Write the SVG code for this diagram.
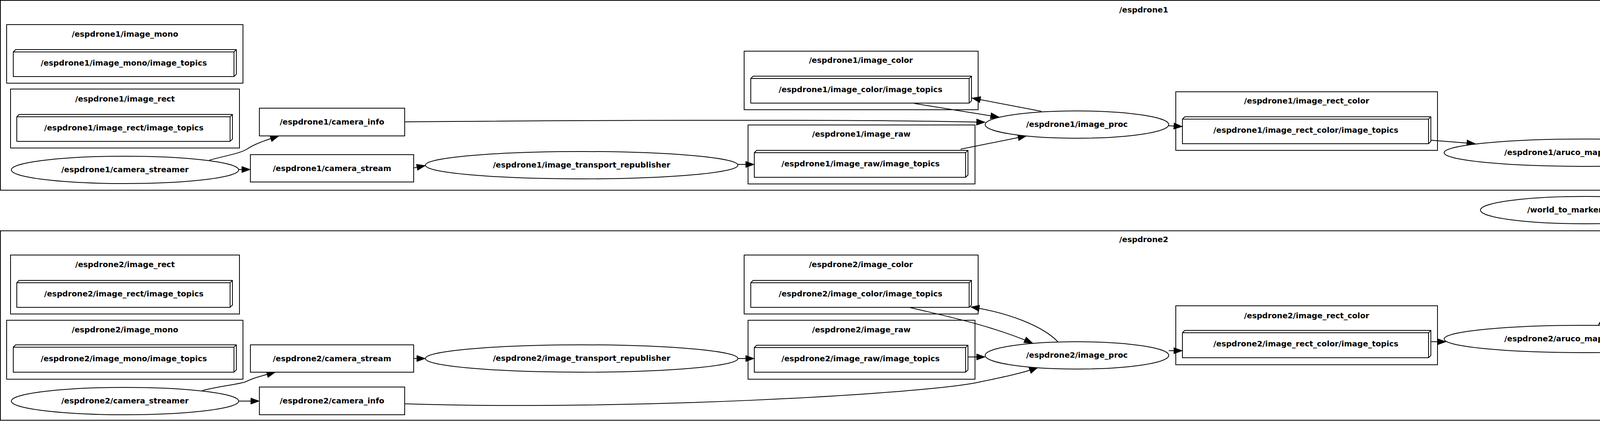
<svg xmlns="http://www.w3.org/2000/svg" width="5878" height="1078" viewBox="0 0 5878 1078">
<style>
.bg{fill:#fff}
.cl{fill:none;stroke:#000;stroke-width:2}
.n{fill:#fff;stroke:#000;stroke-width:2}
.ln{fill:none;stroke:#000;stroke-width:2}
.e{fill:none;stroke:#000;stroke-width:2;marker-end:url(#ah)}
text{font-family:"DejaVu Sans","Liberation Sans",sans-serif;font-weight:bold;font-size:19.8px;text-anchor:middle;fill:#000}
</style>
<defs>
<marker id="ah" markerUnits="userSpaceOnUse" markerWidth="22" markerHeight="16" refX="22" refY="8" orient="auto" overflow="visible">
<path d="M0,0 L22,8 L0,16 Z" fill="#000" stroke="#000" stroke-width="1"/>
</marker>
</defs>
<rect class="bg" x="0" y="0" width="5878" height="1078"/>

<g id="clusters">
<g id="cl_espdrone1"><rect class="cl" x="1" y="1" width="5854" height="486"/><text x="2928" y="32">/espdrone1</text></g>
<g id="cl_espdrone2"><rect class="cl" x="1" y="591" width="5854" height="485"/><text x="2928" y="620">/espdrone2</text></g>
<g id="cl_image_mono1"><rect class="cl" x="17" y="63" width="605" height="150"/><text x="320" y="94">/espdrone1/image_mono</text></g>
<g id="cl_image_rect1"><rect class="cl" x="27" y="228" width="586" height="151"/><text x="320" y="260">/espdrone1/image_rect</text></g>
<g id="cl_image_color1"><rect class="cl" x="1905" y="131" width="599" height="150"/><text x="2204" y="161">/espdrone1/image_color</text></g>
<g id="cl_image_raw1"><rect class="cl" x="1915" y="320" width="581" height="151"/><text x="2205" y="350">/espdrone1/image_raw</text></g>
<g id="cl_image_rect_color1"><rect class="cl" x="3010" y="235" width="670" height="150"/><text x="3345" y="265">/espdrone1/image_rect_color</text></g>
<g id="cl_aruco1"><rect class="cl" x="4429" y="184" width="877" height="259"/><text x="4867" y="216">/espdrone1/aruco_map_pose_tracker</text></g>
<g id="cl_image_rect2"><rect class="cl" x="27" y="653" width="586" height="151"/><text x="320" y="684">/espdrone2/image_rect</text></g>
<g id="cl_image_mono2"><rect class="cl" x="17" y="820" width="605" height="151"/><text x="320" y="851">/espdrone2/image_mono</text></g>
<g id="cl_image_color2"><rect class="cl" x="1905" y="653" width="599" height="151"/><text x="2204" y="684">/espdrone2/image_color</text></g>
<g id="cl_image_raw2"><rect class="cl" x="1915" y="820" width="581" height="151"/><text x="2205" y="851">/espdrone2/image_raw</text></g>
<g id="cl_image_rect_color2"><rect class="cl" x="3010" y="783" width="670" height="151"/><text x="3345" y="815">/espdrone2/image_rect_color</text></g>
<g id="cl_aruco2"><rect class="cl" x="4429" y="661" width="877" height="260"/><text x="4867" y="691">/espdrone2/aruco_map_pose_tracker</text></g>
</g>

<g id="edges">
<path class="e" d="M611,434 L641,434"/>
<path class="e" d="M536,410 C590,396 615,392 632,382 C652,368 684,358 714,348"/>
<path class="e" d="M1059,430 L1089,424"/>
<path class="e" d="M1888,421 L1931,421"/>
<path class="e" d="M1036,312 C1500,308 2200,305 2522,313"/>
<path class="e" d="M2341,265 L2558,300"/>
<path class="e" d="M2666,285 L2488,251"/>
<path class="e" d="M2459,382 L2628,348"/>
<path class="e" d="M2992,322 L3027,324"/>
<path class="e" d="M3663,359 L3777,368"/>
<path class="e" d="M4411,391 L4446,391"/>
<path class="e" d="M5287,392 L5361,392"/>
<path class="e" d="M4185,424 C4230,442 4600,505 4813,537"/>
<path class="e" d="M4813,522 L4281,421"/>
<path class="e" d="M4322,538 L4814,538"/>
<path class="e" d="M4918,538 L5324,538"/>
<path class="e" d="M4814,542 C4500,590 4250,700 4092,831"/>
<path class="e" d="M4128,833 C4280,710 4520,610 4813,559"/>
<path class="e" d="M611,1027 L664,1027"/>
<path class="e" d="M518,1000 C565,988 600,986 628,978 C652,966 680,960 705,953"/>
<path class="e" d="M1059,918 L1089,918"/>
<path class="e" d="M1888,918 L1931,918"/>
<path class="e" d="M1036,1034 C1600,1052 2350,1010 2504,979 C2570,965 2620,955 2657,941"/>
<path class="e" d="M2478,914 L2522,914"/>
<path class="e" d="M2328,787 C2400,805 2530,830 2644,879"/>
<path class="e" d="M2708,875 C2670,835 2580,800 2485,786"/>
<path class="e" d="M2992,898 L3027,898"/>
<path class="e" d="M3663,875 L3702,875"/>
<path class="e" d="M4411,868 L4448,868"/>
<path class="e" d="M5287,868 L5361,868"/>
</g>

<g id="nodes">
<g id="t_image_mono1"><path class="n" d="M34,133 L40,127 L605,127 L605,190 L599,196 L34,196 Z"/><path class="ln" d="M34,133 L599,133 L605,127 M599,133 L599,196"/><text x="317" y="168">/espdrone1/image_mono/image_topics</text></g>
<g id="t_image_rect1"><path class="n" d="M43,299 L49,293 L595,293 L595,356 L589,362 L43,362 Z"/><path class="ln" d="M43,299 L589,299 L595,293 M589,299 L589,362"/><text x="317" y="334">/espdrone1/image_rect/image_topics</text></g>
<g id="camera_info1"><rect class="n" x="664" y="277" width="372" height="71"/><text x="850" y="319">/espdrone1/camera_info</text></g>
<g id="camera_streamer1"><ellipse class="n" cx="320" cy="435" rx="291" ry="35"/><text x="320" y="441">/espdrone1/camera_streamer</text></g>
<g id="camera_stream1"><rect class="n" x="641" y="396" width="418" height="70"/><text x="850" y="438">/espdrone1/camera_stream</text></g>
<g id="republisher1"><ellipse class="n" cx="1489" cy="423" rx="400" ry="35"/><text x="1489" y="429">/espdrone1/image_transport_republisher</text></g>
<g id="t_image_color1"><path class="n" d="M1922,201 L1928,195 L2487,195 L2487,258 L2481,264 L1922,264 Z"/><path class="ln" d="M1922,201 L2481,201 L2487,195 M2481,201 L2481,264"/><text x="2203" y="236">/espdrone1/image_color/image_topics</text></g>
<g id="t_image_raw1"><path class="n" d="M1931,391 L1937,385 L2478,385 L2478,448 L2472,454 L1931,454 Z"/><path class="ln" d="M1931,391 L2472,391 L2478,385 M2472,391 L2472,454"/><text x="2203" y="426">/espdrone1/image_raw/image_topics</text></g>
<g id="image_proc1"><ellipse class="n" cx="2757" cy="319" rx="235" ry="35"/><text x="2757" y="325">/espdrone1/image_proc</text></g>
<g id="t_image_rect_color1"><path class="n" d="M3027,305 L3033,299 L3663,299 L3663,362 L3657,368 L3027,368 Z"/><path class="ln" d="M3027,305 L3657,305 L3663,299 M3657,305 L3657,368"/><text x="3343" y="340">/espdrone1/image_rect_color/image_topics</text></g>
<g id="aruco1"><ellipse class="n" cx="4054" cy="391" rx="357" ry="35"/><text x="4054" y="397">/espdrone1/aruco_map_pose_tracker</text></g>
<g id="t_debug1"><path class="n" d="M4446,255 L4452,249 L5287,249 L5287,312 L5281,318 L4446,318 Z"/><path class="ln" d="M4446,255 L5281,255 L5287,249 M5281,255 L5281,318"/><text x="4865" y="290">/espdrone1/aruco_map_pose_tracker/debug/image_topics</text></g>
<g id="t_result1"><path class="n" d="M4448,363 L4454,357 L5286,357 L5286,420 L5280,426 L4448,426 Z"/><path class="ln" d="M4448,363 L5280,363 L5286,357 M5280,363 L5280,426"/><text x="4865" y="398">/espdrone1/aruco_map_pose_tracker/result/image_topics</text></g>
<g id="image_view1"><ellipse class="n" cx="5600" cy="391" rx="239" ry="35"/><text x="5600" y="397">/espdrone1/image_view</text></g>

<g id="world_to_marker_static_tf"><ellipse class="n" cx="4056" cy="538" rx="266" ry="35"/><text x="4056" y="544">/world_to_marker_static_tf</text></g>
<g id="t_tf"><path class="n" d="M4814,511 L4820,505 L4918,505 L4918,567 L4912,573 L4814,573 Z"/><path class="ln" d="M4814,511 L4912,511 L4918,505 M4912,511 L4912,573"/><text x="4864" y="546">/tf</text></g>
<g id="rqt_gui_node"><ellipse class="n" cx="5600" cy="539" rx="276" ry="34"/><text x="5600" y="545">n___rqt_gui_py_node_17319</text></g>

<g id="t_image_rect2"><path class="n" d="M43,724 L49,718 L595,718 L595,781 L589,787 L43,787 Z"/><path class="ln" d="M43,724 L589,724 L595,718 M589,724 L589,787"/><text x="317" y="759">/espdrone2/image_rect/image_topics</text></g>
<g id="t_image_mono2"><path class="n" d="M34,889 L40,883 L605,883 L605,947 L599,953 L34,953 Z"/><path class="ln" d="M34,889 L599,889 L605,883 M599,889 L599,953"/><text x="317" y="925">/espdrone2/image_mono/image_topics</text></g>
<g id="camera_stream2"><rect class="n" x="641" y="883" width="418" height="70"/><text x="850" y="925">/espdrone2/camera_stream</text></g>
<g id="camera_streamer2"><ellipse class="n" cx="320" cy="1027" rx="291" ry="35"/><text x="320" y="1033">/espdrone2/camera_streamer</text></g>
<g id="camera_info2"><rect class="n" x="664" y="991" width="372" height="71"/><text x="850" y="1033">/espdrone2/camera_info</text></g>
<g id="republisher2"><ellipse class="n" cx="1489" cy="918" rx="400" ry="35"/><text x="1489" y="924">/espdrone2/image_transport_republisher</text></g>
<g id="t_image_color2"><path class="n" d="M1922,724 L1928,718 L2487,718 L2487,781 L2481,787 L1922,787 Z"/><path class="ln" d="M1922,724 L2481,724 L2487,718 M2481,724 L2481,787"/><text x="2203" y="759">/espdrone2/image_color/image_topics</text></g>
<g id="t_image_raw2"><path class="n" d="M1931,890 L1937,884 L2478,884 L2478,947 L2472,953 L1931,953 Z"/><path class="ln" d="M1931,890 L2472,890 L2478,884 M2472,890 L2472,953"/><text x="2203" y="925">/espdrone2/image_raw/image_topics</text></g>
<g id="image_proc2"><ellipse class="n" cx="2757" cy="910" rx="235" ry="35"/><text x="2757" y="916">/espdrone2/image_proc</text></g>
<g id="t_image_rect_color2"><path class="n" d="M3027,852 L3033,846 L3663,846 L3663,910 L3657,916 L3027,916 Z"/><path class="ln" d="M3027,852 L3657,852 L3663,846 M3657,852 L3657,916"/><text x="3343" y="887">/espdrone2/image_rect_color/image_topics</text></g>
<g id="aruco2"><ellipse class="n" cx="4054" cy="868" rx="357" ry="35"/><text x="4054" y="874">/espdrone2/aruco_map_pose_tracker</text></g>
<g id="t_debug2"><path class="n" d="M4446,731 L4452,725 L5287,725 L5287,789 L5281,795 L4446,795 Z"/><path class="ln" d="M4446,731 L5281,731 L5287,725 M5281,731 L5281,795"/><text x="4865" y="766">/espdrone2/aruco_map_pose_tracker/debug/image_topics</text></g>
<g id="t_result2"><path class="n" d="M4448,840 L4454,834 L5286,834 L5286,897 L5280,903 L4448,903 Z"/><path class="ln" d="M4448,840 L5280,840 L5286,834 M5280,840 L5280,903"/><text x="4865" y="875">/espdrone2/aruco_map_pose_tracker/result/image_topics</text></g>
<g id="image_view2"><ellipse class="n" cx="5600" cy="868" rx="239" ry="35"/><text x="5600" y="874">/espdrone2/image_view</text></g>
</g>
</svg>
